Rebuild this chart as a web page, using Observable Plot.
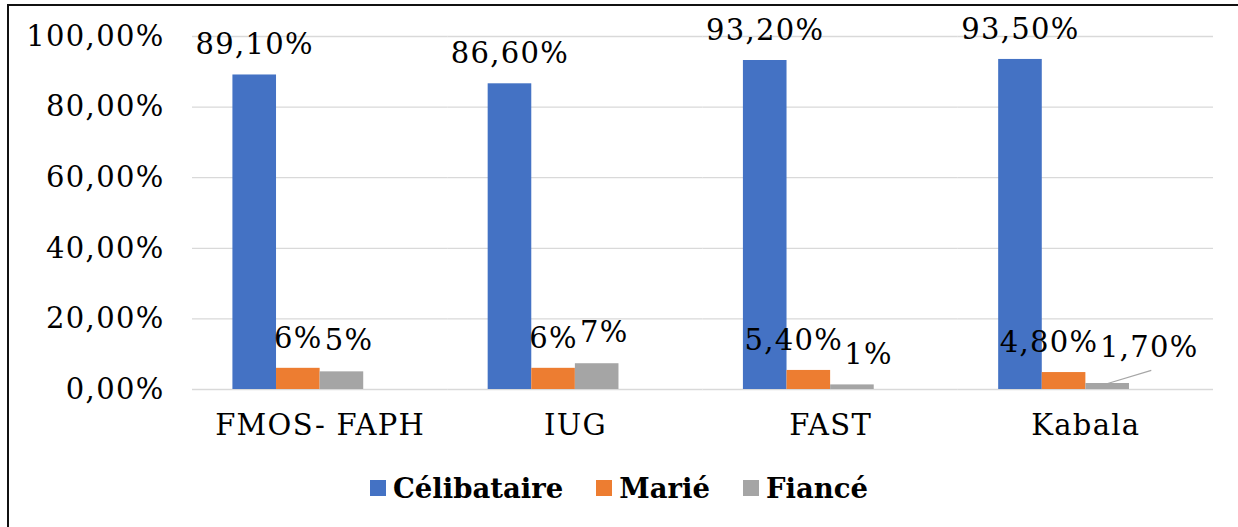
<!DOCTYPE html>
<html>
<head>
<meta charset="utf-8">
<script src="https://cdn.jsdelivr.net/npm/d3@7"></script>
<script src="https://cdn.jsdelivr.net/npm/@observablehq/plot@0.6"></script>
<style>
  html, body { margin: 0; padding: 0; background: #fff; }
  #wrap { position: relative; width: 1238px; height: 527px; overflow: hidden; background: #fff; font-family: "DejaVu Serif", serif; }
  #border { position: absolute; left: 7px; top: 4px; width: 1300px; height: 600px; border-left: 2.5px solid #111; border-top: 2px solid #111; pointer-events: none; }
  #legend { position: absolute; left: 0; top: 470px; width: 1238px; height: 36px; display: flex; justify-content: center; align-items: center; gap: 33px; font-family: "DejaVu Serif", serif; font-weight: bold; font-size: 27.5px; color: #000; }
  .item { display: flex; align-items: center; }
  .sw { width: 16px; height: 16px; margin-right: 7px; }
</style>
</head>
<body>
<div id="wrap"><div id="chart"></div><div id="legend"></div><div id="border"></div></div>
<script>
const categories = ["FMOS- FAPH", "IUG", "FAST", "Kabala"];
const series = ["Célibataire", "Marié", "Fiancé"];
const colors = ["#4472C4", "#ED7D31", "#A5A5A5"];
const gapKey = ""; // empty fourth series slot, as in the original chart
const celibataire = [89.1, 86.6, 93.2, 93.5];
const marie = [6.0, 6.0, 5.4, 4.8];
const fiance = [5.0, 7.3, 1.3, 1.7];
const celibataireLabels = ["89,10%", "86,60%", "93,20%", "93,50%"];
const marieLabels = ["6%", "6%", "5,40%", "4,80%"];
const fianceLabels = ["5%", "7%", "1%", "1,70%"];
const yTicks = [0, 20, 40, 60, 80, 100];
const leaderTop = 5.4;

const values = [celibataire, marie, fiance];
const labels = [celibataireLabels, marieLabels, fianceLabels];
const rows = categories.flatMap((c, i) => series.map((s, j) => ({
  category: c, series: s, value: values[j][i], label: labels[j][i]
})));

const F = "DejaVu Serif";
const FS = 29;
const is = (s, cats) => d => d.series === s && cats.includes(d.category);
const txt = (filter, dx, dy) => Plot.text(rows, {filter, x: "series", y: "value", text: "label", dx, dy, fontSize: FS, fill: "#000"});

const chart = Plot.plot({
  width: 1238,
  height: 450,
  marginLeft: 192,
  marginRight: 25,
  marginTop: 36,
  marginBottom: 61,
  style: {fontFamily: F, fontSize: FS + "px", letterSpacing: "1.3px", color: "#000", background: "transparent", overflow: "visible"},
  facet: {data: rows, x: "category"},
  fx: {domain: categories, padding: 0, round: false, axis: "bottom", tickSize: 0, tickPadding: 25, label: null},
  x: {domain: [...series, gapKey], paddingInner: 0, paddingOuter: 0.927, round: false, axis: null},
  y: {domain: [0, 100], ticks: yTicks, tickSize: 0, tickPadding: 28, label: null,
      tickFormat: d => d.toFixed(2).replace(".", ",") + "%"},
  color: {domain: series, range: colors},
  marks: [
    Plot.ruleY(yTicks, {stroke: "#d9d9d9", strokeWidth: 1.3}),
    Plot.barY(rows, {x: "series", y: "value", fill: "series"}),
    txt(is("Célibataire", categories), 0, -30),
    txt(is("Marié", ["FMOS- FAPH", "IUG"]), 0, -30),
    txt(is("Marié", ["FAST", "Kabala"]), -15, -30),
    txt(is("Fiancé", ["FMOS- FAPH", "IUG"]), 7, -31),
    txt(is("Fiancé", ["FAST"]), 16, -30),
    Plot.link(rows, {filter: is("Fiancé", ["Kabala"]), x1: "series", y1: "value", x2: () => gapKey, y2: () => leaderTop, stroke: "#A6A6A6", strokeWidth: 1.3}),
    Plot.text(rows, {filter: is("Fiancé", ["Kabala"]), x: () => gapKey, y: "value", text: "label", dx: -2, dy: -36, fontSize: FS, fill: "#000"})
  ]
});
document.getElementById("chart").appendChild(chart);

const legend = document.getElementById("legend");
series.forEach((s, i) => {
  const item = document.createElement("div");
  item.className = "item";
  const sw = document.createElement("span");
  sw.className = "sw";
  sw.style.background = colors[i];
  const t = document.createElement("span");
  t.textContent = s;
  item.appendChild(sw);
  item.appendChild(t);
  legend.appendChild(item);
});
</script>
</body>
</html>
